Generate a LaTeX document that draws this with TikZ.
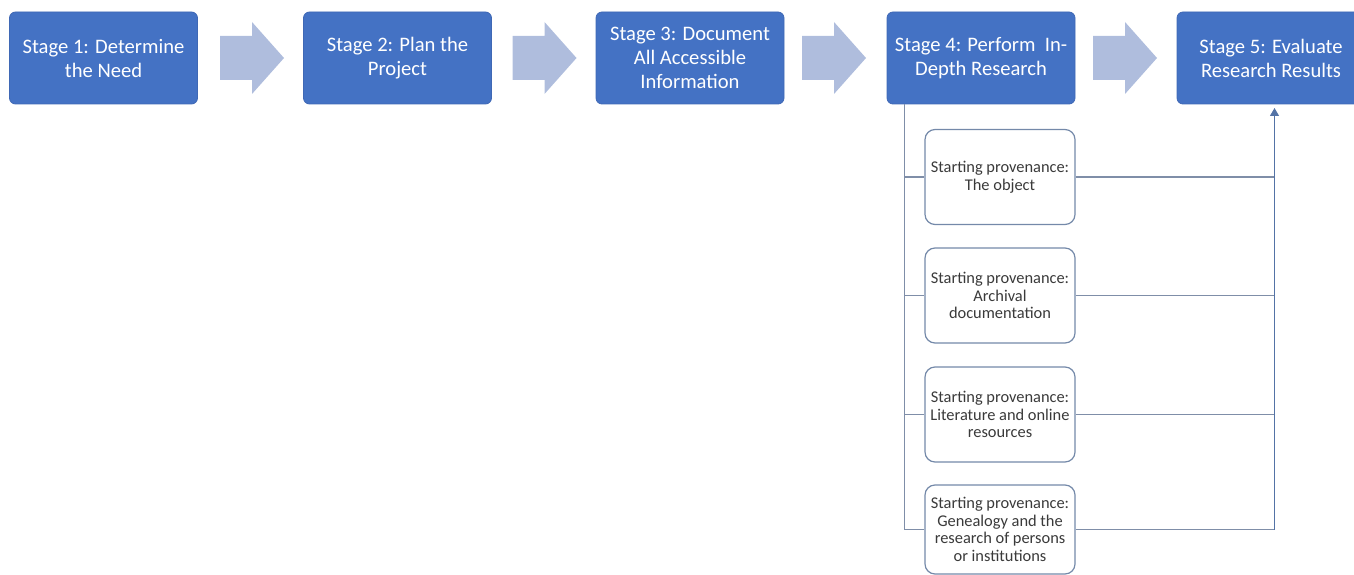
\documentclass[tikz,border=0pt]{standalone}
\usepackage{fontspec}
\setmainfont{Carlito}
\usetikzlibrary{arrows.meta}
\definecolor{stagefill}{HTML}{4472C4}
\definecolor{stageline}{HTML}{3F68B5}
\definecolor{arrowfill}{HTML}{AFBDDD}
\definecolor{subline}{HTML}{7489A9}
\definecolor{subtext}{HTML}{3A3A3A}
\definecolor{connline}{HTML}{7F8EA8}
\definecolor{trunkline}{HTML}{5473A6}
\tikzset{
  stagebox/.style={draw=stageline, line width=0.8pt, fill=stagefill, rounded corners=6pt,
    minimum width=188pt, minimum height=92pt, text=white, align=center, inner sep=0pt,
    font=\fontsize{20.6}{24}\selectfont},
  subbox/.style={draw=subline, line width=1.2pt, fill=white, rounded corners=10pt,
    minimum width=150pt, minimum height=95pt, text=subtext, align=center, inner sep=0pt,
    font=\fontsize{16.4}{17.7}\selectfont},
  blockarrow/.style={fill=arrowfill},
  conn/.style={draw=connline, line width=1.2pt},
  trunk/.style={draw=trunkline, line width=1.2pt},
}
\begin{document}
\begin{tikzpicture}[x=1pt,y=-1pt]
\useasboundingbox (0,0) rectangle (1354,575);
\clip (0,0) rectangle (1354,575);
% stages
\node[stagebox] (s1) at (103.5,58) {Stage 1: Determine\\the Need};
\node[stagebox] (s2) at (397.5,58) {Stage 2: Plan the\\Project};
\node[stagebox] (s3) at (690,58) {Stage 3: Document\\All Accessible\\Information};
\node[stagebox] (s4) at (981,58) {Stage 4: Perform~ In-\\Depth Research};
\node[stagebox] (s5) at (1271,58) {Stage 5: Evaluate\\Research Results};
% block arrows
\foreach \x in {220,512.5,802,1093}{
  \fill[blockarrow] (\x,36) -- (\x+32,36) -- (\x+32,22) -- (\x+64,58) -- (\x+32,94) -- (\x+32,80) -- (\x,80) -- cycle;
}
% sub boxes
\node[subbox] (b1) at (1000,177) {Starting provenance:\\The object};
\node[subbox] (b2) at (1000,295.5) {Starting provenance:\\Archival\\documentation};
\node[subbox] (b3) at (1000,414.5) {Starting provenance:\\Literature and online\\resources};
\node[subbox, minimum height=89pt] (b4) at (1000,529.5) {Starting provenance:\\Genealogy and the\\research of persons\\or institutions};
% connectors
\coordinate (tl) at ([xshift=18pt]s4.south west);
\coordinate (tr) at (1274.5,104);
\draw[conn] (tl) |- (b4.west);
\draw[conn] (tl |- b1.west) -- (b1.west);
\draw[conn] (tl |- b2.west) -- (b2.west);
\draw[conn] (tl |- b3.west) -- (b3.west);
\draw[conn] (b1.east) -- (b1.east -| tr);
\draw[conn] (b2.east) -- (b2.east -| tr);
\draw[conn] (b3.east) -- (b3.east -| tr);
\draw[conn] (b4.east) -- (b4.east -| tr);
\draw[trunk, -{Triangle[width=9pt,length=8pt]}, shorten >=4pt] (b4.east -| tr) -- (tr);
\end{tikzpicture}
\end{document}
